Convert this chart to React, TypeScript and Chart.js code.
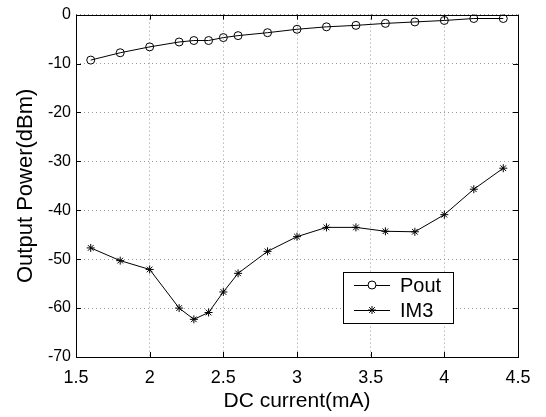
import React, { useEffect, useRef } from "react";
import { Chart, registerables } from "chart.js";

Chart.register(...registerables);

const currents = [1.6, 1.8, 2.0, 2.2, 2.3, 2.4, 2.5, 2.6, 2.8, 3.0, 3.2, 3.4, 3.6, 3.8, 4.0, 4.2, 4.4];
const pout = [-9.3, -7.8, -6.6, -5.6, -5.3, -5.3, -4.7, -4.3, -3.7, -3.0, -2.5, -2.2, -1.8, -1.5, -1.2, -0.8, -0.8];
const im3 = [-47.7, -50.3, -52.1, -60.0, -62.3, -60.9, -56.7, -52.9, -48.4, -45.4, -43.5, -43.5, -44.3, -44.4, -40.9, -35.7, -31.4];
const seriesNames = ["Pout", "IM3"];
const xLabel = "DC current(mA)";
const yLabel = "Output Power(dBm)";

const FONT = "'Liberation Sans', Arial, sans-serif";

function marker(ctx: CanvasRenderingContext2D, style: string, r: number, x: number, y: number) {
  ctx.beginPath();
  if (style === "circle") {
    ctx.arc(x, y, r, 0, Math.PI * 2);
  } else {
    ctx.moveTo(x - r, y); ctx.lineTo(x + r, y);
    ctx.moveTo(x, y - r); ctx.lineTo(x, y + r);
    const d = r * Math.SQRT1_2;
    ctx.moveTo(x - d, y - d); ctx.lineTo(x + d, y + d);
    ctx.moveTo(x - d, y + d); ctx.lineTo(x + d, y - d);
  }
  ctx.stroke();
}

const framePlugin = {
  id: "frame",
  afterDraw(chart: any) {
    const { ctx, chartArea: a, scales } = chart;
    ctx.save();
    ctx.strokeStyle = "#000";
    ctx.lineWidth = 1;
    ctx.setLineDash([]);
    ctx.strokeRect(Math.round(a.left) + 0.5, Math.round(a.top) + 0.5, Math.round(a.right - a.left), Math.round(a.bottom - a.top));
    const tl = 5;
    ctx.beginPath();
    scales.x.ticks.forEach((t: any) => {
      const x = Math.round(scales.x.getPixelForValue(t.value)) + 0.5;
      ctx.moveTo(x, a.bottom); ctx.lineTo(x, a.bottom - tl);
      ctx.moveTo(x, a.top); ctx.lineTo(x, a.top + tl);
    });
    scales.y.ticks.forEach((t: any) => {
      const y = Math.round(scales.y.getPixelForValue(t.value)) + 0.5;
      ctx.moveTo(a.left, y); ctx.lineTo(a.left + tl, y);
      ctx.moveTo(a.right, y); ctx.lineTo(a.right - tl, y);
    });
    ctx.stroke();

    // legend box
    const bx = 343, by = 272, bw = 110, bh = 51;
    ctx.fillStyle = "#fff";
    ctx.fillRect(bx, by, bw, bh);
    ctx.strokeRect(bx + 0.5, by + 0.5, bw, bh);
    ctx.font = `20px ${FONT}`;
    ctx.textBaseline = "middle";
    ctx.textAlign = "left";
    chart.data.datasets.forEach((ds: any, i: number) => {
      const y = by + 13 + i * 25;
      ctx.strokeStyle = "#000";
      ctx.beginPath();
      ctx.moveTo(bx + 11, y + 0.5); ctx.lineTo(bx + 47, y + 0.5);
      ctx.stroke();
      if (ds.pointStyle === "circle") {
        ctx.fillStyle = "#fff";
        ctx.beginPath(); ctx.arc(bx + 29, y, ds.pointRadius, 0, Math.PI * 2); ctx.fill();
      }
      marker(ctx, ds.pointStyle, ds.pointRadius, bx + 29, y);
      ctx.fillStyle = "#000";
      ctx.fillText(ds.label, bx + 57, y + 1);
    });
    ctx.restore();
  },
};

export default function App() {
  const ref = useRef<HTMLCanvasElement>(null);
  useEffect(() => {
    const chart = new Chart(ref.current!, {
      type: "line",
      data: {
        datasets: [
          {
            label: seriesNames[0],
            data: currents.map((x, i) => ({ x, y: pout[i] })),
            borderColor: "#000",
            borderWidth: 1,
            pointStyle: "circle",
            pointRadius: 4,
            pointBackgroundColor: "rgba(255,255,255,0)",
            pointBorderColor: "#000",
            pointBorderWidth: 1,
            tension: 0,
          },
          {
            label: seriesNames[1],
            data: currents.map((x, i) => ({ x, y: im3[i] })),
            borderColor: "#000",
            borderWidth: 1,
            pointStyle: "star",
            pointRadius: 4,
            pointBackgroundColor: "#000",
            pointBorderColor: "#000",
            pointBorderWidth: 1,
            tension: 0,
          },
        ],
      },
      options: {
        animation: false,
        responsive: false,
        maintainAspectRatio: false,
        layout: { padding: { left: 0, right: 28, top: 11, bottom: 0 } },
        plugins: { legend: { display: false }, tooltip: { enabled: false } },
        scales: {
          x: {
            type: "linear",
            min: 1.5,
            max: 4.5,
            afterFit: (s: any) => { s.height = 60; },
            ticks: {
              stepSize: 0.5,
              color: "#000",
              padding: 10,
              font: { family: FONT, size: 18 },
              callback: (v: any) => String(Number(v)),
            },
            grid: { color: "#999", lineWidth: 1, drawTicks: false },
            border: { display: false, dash: [1, 3] },
            title: { display: true, text: xLabel, color: "#000", font: { family: FONT, size: 21 }, padding: { top: 0, bottom: 3 } },
          },
          y: {
            type: "linear",
            min: -70,
            max: 0,
            afterFit: (s: any) => { s.width = 76; },
            ticks: {
              stepSize: 10,
              color: "#000",
              padding: 5,
              font: { family: FONT, size: 16 },
            },
            grid: { color: "#999", lineWidth: 1, drawTicks: false },
            border: { display: false, dash: [1, 3] },
            title: { display: true, text: yLabel, color: "#000", font: { family: FONT, size: 22 }, padding: { top: 13, bottom: 0 } },
          },
        },
      },
      plugins: [framePlugin],
    });
    return () => chart.destroy();
  }, []);
  return (
    <div style={{ position: "absolute", left: 0, top: 0, width: 546, height: 417, background: "#fff" }}>
      <canvas ref={ref} width={546} height={417} style={{ width: 546, height: 417 }} />
    </div>
  );
}
